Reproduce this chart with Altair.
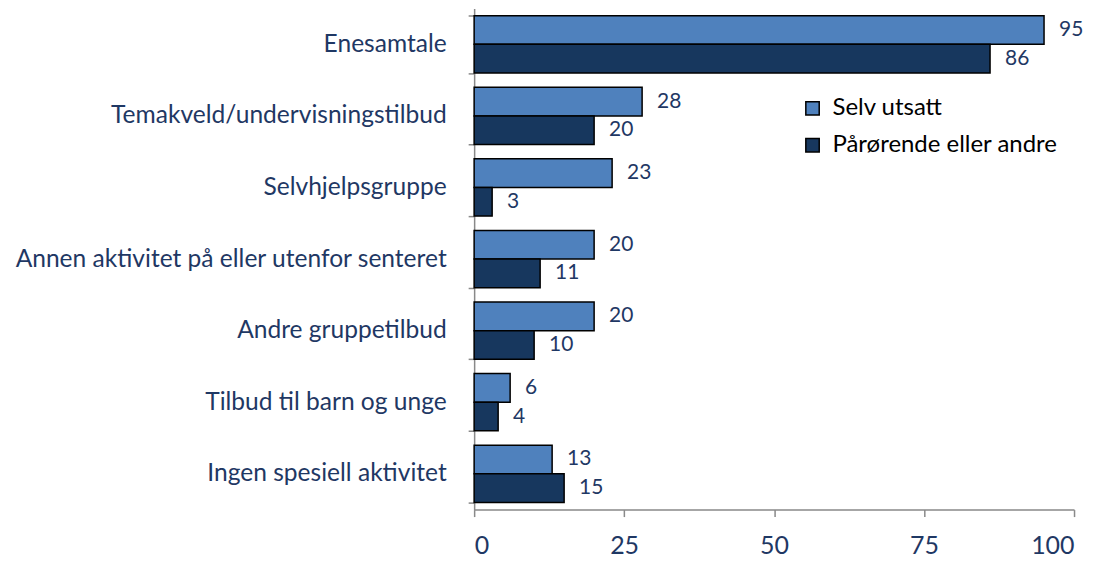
import altair as alt
import pandas as pd

categories = [
    "Enesamtale",
    "Temakveld/undervisningstilbud",
    "Selvhjelpsgruppe",
    "Annen aktivitet på eller utenfor senteret",
    "Andre gruppetilbud",
    "Tilbud til barn og unge",
    "Ingen spesiell aktivitet",
]
series = ["Selv utsatt", "Pårørende eller andre"]
selv_utsatt = [95, 28, 23, 20, 20, 6, 13]
parorende = [86, 20, 3, 11, 10, 4, 15]
x_ticks = [0, 25, 50, 75, 100]
colors = ["#4F81BD", "#17375E"]

rows = []
for c, a, b in zip(categories, selv_utsatt, parorende):
    rows.append({"kategori": c, "serie": series[0], "verdi": a})
    rows.append({"kategori": c, "serie": series[1], "verdi": b})
df = pd.DataFrame(rows)

FONT = "Lato"
NAVY = "#1F3864"

y_enc = alt.Y(
    "kategori:N",
    sort=categories,
    title=None,
    scale=alt.Scale(paddingInner=0.2, paddingOuter=0.1),
    axis=alt.Axis(
        tickBand="extent",
        labelFont=FONT,
        labelFontSize=24.6,
        labelColor=NAVY,
        labelPadding=22,
        labelLimit=600,
        tickSize=6,
        tickColor="#898989",
        domainColor="#898989",
        tickWidth=1.5,
        domainWidth=1.5,
    ),
)
yoff = alt.YOffset("serie:N", sort=series)

bars = alt.Chart(df).mark_bar(stroke="black", strokeWidth=1.5).encode(
    x=alt.X(
        "verdi:Q",
        title=None,
        scale=alt.Scale(domain=[0, 100], nice=False),
        axis=alt.Axis(
            values=x_ticks,
            grid=False,
            labelFont=FONT,
            labelFontSize=25,
            labelColor=NAVY,
            labelPadding=17,
            tickSize=7,
            tickColor="#898989",
            domainColor="#898989",
            tickWidth=1.5,
            domainWidth=1.5,
        ),
    ),
    y=y_enc,
    yOffset=yoff,
    color=alt.Color(
        "serie:N",
        sort=series,
        scale=alt.Scale(domain=series, range=colors),
        legend=alt.Legend(
            title=None,
            orient="none",
            legendX=327,
            legendY=88,
            symbolType="square",
            symbolSize=180,
            symbolStrokeColor="black",
            symbolStrokeWidth=1.5,
            labelFont=FONT,
            labelFontSize=24,
            labelColor="black",
            labelLimit=400,
            rowPadding=13,
            labelOffset=8,
        ),
    ),
)

labels = alt.Chart(df).mark_text(
    align="left", baseline="middle", dx=15, font=FONT, fontSize=21, color=NAVY
).encode(
    x="verdi:Q",
    y=alt.Y("kategori:N", sort=categories),
    yOffset=yoff,
    text="verdi:Q",
)

chart = (
    alt.layer(bars, labels)
    .properties(
        width=601,
        height=502,
        autosize=alt.AutoSizeParams(type="none"),
        padding={"left": 467, "top": 0, "right": 20, "bottom": 52},
    )
    .configure_view(stroke=None)
)

chart.save("out.html", embed_options={"renderer": "svg", "actions": False})
